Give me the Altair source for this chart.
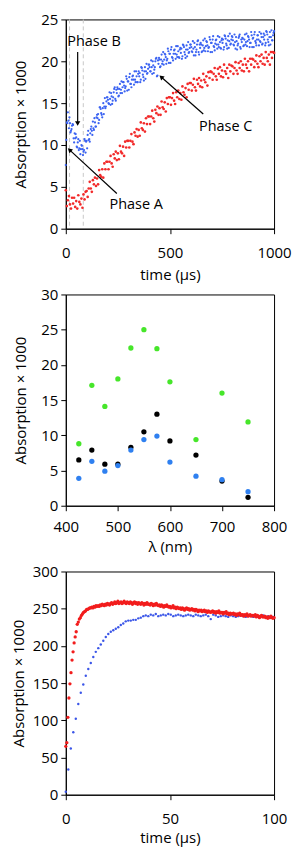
import math
import altair as alt
import pandas as pd

FONT = "Open Sans"
FS = 15

# ---------------- Panel 1 data (time in µs, step 5; second blue set offset 2.5) ----------------
blue1_a = [
    7.6, 12.7, 13.9, 12.0, 12.6, 11.7, 12.3, 12.4, 10.3, 10.8,
    10.9, 9.7, 10.7, 9.6, 8.9, 10.0, 9.5, 9.2, 10.7, 9.1,
    10.5, 11.2, 10.6, 10.4, 11.9, 11.7, 12.8, 11.8, 12.7, 12.2,
    13.6, 13.7, 13.0, 14.5, 13.8, 13.3, 15.0, 14.6, 14.4, 15.2,
    15.7, 15.0, 16.3, 14.8, 15.8, 15.3, 16.3, 16.9, 15.3, 16.2,
    16.7, 15.9, 17.3, 16.6, 16.2, 17.5, 17.1, 16.8, 18.2, 16.5,
    17.6, 18.1, 17.3, 16.9, 18.2, 17.8, 18.8, 17.5, 18.2, 17.5,
    18.8, 18.6, 17.8, 19.2, 18.4, 17.7, 19.3, 18.8, 18.5, 19.1,
    19.6, 18.8, 20.1, 18.5, 19.5, 19.0, 20.0, 20.4, 18.3, 19.7,
    20.2, 19.4, 20.8, 20.0, 19.6, 20.9, 20.5, 20.1, 21.5, 19.8,
    20.9, 21.4, 20.5, 20.1, 21.3, 20.9, 21.8, 20.5, 21.2, 20.4,
    21.6, 21.5, 20.6, 21.9, 21.1, 20.4, 21.9, 21.4, 21.0, 21.6,
    22.0, 21.2, 22.4, 20.7, 21.7, 21.1, 22.0, 22.5, 20.8, 21.6,
    22.0, 21.2, 22.5, 21.6, 21.2, 22.4, 21.9, 21.6, 22.9, 21.1,
    22.2, 22.6, 21.8, 21.3, 22.5, 22.0, 23.0, 21.7, 22.3, 21.5,
    22.7, 22.6, 21.7, 23.0, 22.1, 21.5, 23.0, 22.4, 22.0, 22.6,
    22.9, 22.0, 23.2, 21.5, 22.4, 21.9, 22.8, 23.2, 21.5, 22.3,
    22.7, 21.9, 23.2, 22.3, 21.8, 23.0, 22.6, 22.2, 23.5, 21.7,
    22.8, 23.2, 22.4, 21.9, 23.1, 22.6, 23.5, 22.3, 22.9, 22.1,
    23.3, 23.1, 22.2, 23.5, 22.6, 21.9, 23.5, 22.9, 22.5, 23.1,
    23.6,
]
blue1_b = [
    10.6, 12.6, 12.9, 13.3, 11.5, 11.9, 12.5, 10.8, 11.4, 11.3,
    9.8, 10.3, 9.4, 10.5, 9.5, 9.9, 8.8, 9.4, 10.5, 10.4,
    9.6, 11.7, 10.7, 11.4, 12.2, 11.2, 12.0, 13.2, 12.2, 13.3,
    13.2, 12.6, 14.5, 14.3, 13.6, 14.4, 13.7, 15.6, 14.6, 15.7,
    15.4, 14.9, 15.5, 16.2, 14.9, 15.7, 16.7, 15.5, 16.6, 16.9,
    15.8, 16.7, 16.2, 17.6, 16.9, 17.5, 16.4, 17.0, 17.9, 17.6,
    16.6, 18.5, 17.3, 17.8, 18.3, 17.2, 17.8, 18.8, 17.5, 18.5,
    18.2, 17.5, 19.3, 18.9, 18.1, 18.8, 17.9, 19.7, 18.6, 19.6,
    19.3, 18.8, 19.3, 20.0, 18.6, 19.3, 20.3, 18.2, 20.1, 20.4,
    19.3, 20.2, 19.7, 21.1, 20.2, 20.8, 19.7, 20.3, 21.2, 20.9,
    19.8, 21.7, 20.4, 20.9, 21.4, 20.3, 20.8, 21.8, 20.5, 21.4,
    21.0, 20.3, 22.0, 21.7, 20.8, 21.4, 20.6, 22.3, 21.1, 22.0,
    21.7, 21.1, 21.5, 22.2, 20.7, 21.4, 22.4, 21.1, 22.0, 22.2,
    21.1, 21.9, 21.3, 22.7, 21.8, 22.3, 21.2, 21.7, 22.6, 22.2,
    21.1, 23.0, 21.7, 22.1, 22.6, 21.5, 22.0, 22.9, 21.6, 22.5,
    22.2, 21.4, 23.1, 22.7, 21.9, 22.5, 21.6, 23.3, 22.1, 23.0,
    22.5, 21.9, 22.3, 22.9, 21.4, 22.1, 23.0, 21.7, 22.6, 22.8,
    21.8, 22.6, 22.0, 23.3, 22.4, 22.9, 21.7, 22.2, 23.1, 22.7,
    21.7, 23.5, 22.2, 22.6, 23.1, 21.9, 22.4, 23.3, 22.0, 22.9,
    22.6, 21.9, 23.6, 23.2, 22.3, 22.9, 22.0, 23.7, 22.5, 23.4,
]
red1 = [
    4.6, 2.7, 3.4, 3.9, 2.9, 2.4, 3.7, 3.0, 3.7, 2.6,
    3.3, 2.4, 4.0, 3.2, 2.9, 3.6, 2.5, 4.1, 3.5, 4.4,
    4.5, 3.8, 4.8, 5.6, 4.8, 4.4, 5.8, 5.3, 6.1, 5.1,
    6.0, 5.3, 7.0, 6.4, 6.2, 7.1, 6.1, 7.8, 7.1, 8.0,
    8.0, 7.1, 8.0, 8.7, 7.8, 7.4, 8.9, 8.4, 9.2, 8.2,
    9.0, 8.3, 9.9, 9.2, 9.0, 9.8, 8.7, 10.4, 9.7, 10.5,
    10.5, 9.7, 10.5, 11.3, 10.4, 10.1, 11.5, 11.1, 11.9, 11.0,
    11.8, 11.1, 12.7, 12.0, 11.8, 12.6, 11.6, 13.2, 12.5, 13.4,
    13.4, 12.5, 13.4, 14.1, 13.2, 12.8, 14.2, 13.8, 14.6, 13.6,
    14.4, 13.6, 15.2, 14.5, 14.3, 15.1, 14.0, 15.6, 14.9, 15.7,
    15.7, 14.8, 15.6, 16.2, 15.3, 14.9, 16.3, 15.7, 16.5, 15.5,
    16.2, 15.4, 17.0, 16.3, 16.0, 16.8, 15.7, 17.3, 16.6, 17.4,
    17.4, 16.5, 17.2, 17.9, 16.9, 16.5, 17.8, 17.3, 18.0, 17.0,
    17.7, 16.9, 18.5, 17.8, 17.5, 18.2, 17.1, 18.7, 18.0, 18.8,
    18.7, 17.8, 18.5, 19.2, 18.2, 17.8, 19.1, 18.5, 19.3, 18.2,
    18.9, 18.1, 19.6, 18.8, 18.5, 19.2, 18.0, 19.6, 18.8, 19.5,
    19.4, 18.5, 19.2, 19.9, 18.9, 18.5, 19.8, 19.2, 20.0, 18.9,
    19.6, 18.8, 20.3, 19.6, 19.2, 20.0, 18.8, 20.3, 19.6, 20.3,
    20.2, 19.3, 20.0, 20.7, 19.7, 19.3, 20.6, 20.0, 20.8, 19.7,
    20.4, 19.6, 21.1, 20.4, 20.0, 20.8, 19.6, 21.1, 20.4, 21.1,
    21.0,
]
phase_lines = [18, 84]
phase_labels = ["Phase A", "Phase B", "Phase C"]
label_x = [338, 136, 768]
label_y = [2.85, 22.25, 12.1]
arrow_tail_x = [245, 57, 660]
arrow_tail_y = [4.2, 21.1, 13.7]
arrow_head_x = [10, 57, 450]
arrow_head_y = [9.6, 12.3, 18.3]

# ---------------- Panel 2 data ----------------
wavelength = [425, 450, 475, 500, 525, 550, 575, 600, 650, 700, 750]
green2 = [8.8, 17.1, 14.1, 18.0, 22.4, 25.0, 22.3, 17.6, 9.4, 16.0, 11.9]
black2 = [6.5, 7.9, 5.9, 5.9, 8.3, 10.5, 13.0, 9.2, 7.2, 3.5, 1.2]
blue2 = [3.9, 6.3, 4.9, 5.7, 7.9, 9.4, 9.9, 6.2, 4.2, 3.7, 2.0]

# ---------------- Panel 3 data (red step 0.5 µs, blue step 1.2 µs) ----------------
red3 = [
    65, 70, 104, 130, 149, 164, 181, 192, 204, 212,
    219, 229, 232, 236, 238, 241, 243, 245, 246, 247,
    249, 249, 250, 251, 251, 252, 251, 253, 252, 254,
    253, 254, 253, 255, 254, 256, 255, 254, 256, 255,
    257, 256, 255, 257, 258, 256, 257, 259, 257, 258,
    260, 257, 258, 259, 257, 258, 260, 258, 257, 259,
    258, 257, 259, 258, 256, 258, 259, 257, 258, 256,
    258, 257, 256, 258, 257, 255, 257, 256, 258, 256,
    256, 255, 257, 256, 254, 256, 255, 257, 255, 254,
    255, 253, 255, 254, 252, 254, 253, 255, 253, 252,
    253, 251, 252, 254, 251, 252, 250, 252, 251, 250,
    251, 249, 251, 250, 248, 250, 251, 249, 250, 248,
    249, 250, 248, 249, 247, 249, 248, 246, 248, 247,
    248, 246, 247, 248, 246, 247, 245, 247, 246, 245,
    246, 247, 245, 246, 244, 246, 245, 247, 244, 245,
    245, 243, 245, 244, 246, 243, 244, 242, 244, 243,
    243, 244, 242, 243, 241, 243, 242, 244, 241, 242,
    242, 240, 242, 241, 243, 240, 241, 242, 240, 241,
    241, 240, 242, 239, 241, 240, 238, 240, 241, 239,
    239, 240, 238, 239, 237, 239, 238, 240, 238, 237,
    238,
]
blue3 = [
    4, 34, 62, 84, 102, 122, 137, 148, 160, 169,
    177, 185, 192, 197, 202, 207, 212, 216, 219, 221,
    223, 225, 228, 230, 233, 234, 234, 235, 235, 237,
    238, 240, 241, 240, 242, 241, 243, 240, 241, 242,
    241, 243, 242, 240, 241, 242, 241, 240, 241, 242,
    241, 240, 242, 241, 240, 241, 242, 240, 236, 242,
    241, 239, 240, 241, 240, 239, 241, 240, 239, 240,
    241, 240, 239, 240, 241, 239, 240, 239, 240, 241,
    239, 240, 238, 239,
]

# ---------------- layout ----------------
W = 209
H1, H2, H3 = 210, 212, 224
Y_TITLE = "Absorption \u00d7 1000"


def xaxis(title, values, pad, ty):
    return alt.Axis(title=title, values=values, grid=False, labelFlush=False,
                    labelOverlap=False, format="d",
                    labelBaseline="alphabetic", labelPadding=pad, tickSize=5,
                    titleY=ty, titleBaseline="alphabetic")


def yaxis(values, h, tx):
    return alt.Axis(title=Y_TITLE, values=values, grid=False, labelPadding=3,
                    labelOverlap=False, labelFlush=False, format="d",
                    tickSize=5, titleX=tx, titleY=h / 2, titleAngle=270,
                    titleAlign="center", titleBaseline="alphabetic")


# Panel 1
df_b1 = pd.DataFrame({
    "t": [i * 5 for i in range(len(blue1_a))] + [i * 5 + 2.5 for i in range(len(blue1_b))],
    "v": blue1_a + blue1_b,
})
df_r1 = pd.DataFrame({"t": [i * 5 for i in range(len(red1))], "v": red1})

x1 = alt.X("t:Q", scale=alt.Scale(domain=[0, 1000], nice=False),
           axis=xaxis("time (\u00b5s)", [0, 500, 1000], 23.5, 51))
y1 = alt.Y("v:Q", scale=alt.Scale(domain=[0, 25], nice=False),
           axis=yaxis([0, 5, 10, 15, 20, 25], H1, -40))

sx, sy = W / 1000, H1 / 25
angles, hx, hy = [], [], []
for tx_, ty_, hx_, hy_ in zip(arrow_tail_x, arrow_tail_y, arrow_head_x, arrow_head_y):
    dx = (hx_ - tx_) * sx
    dy = -(hy_ - ty_) * sy
    L = math.hypot(dx, dy)
    angles.append(math.degrees(math.atan2(dx, -dy)) % 360)
    hx.append(hx_ - dx / L * 3 / sx)
    hy.append(hy_ + dy / L * 3 / sy)
df_arr = pd.DataFrame({"x": arrow_tail_x, "y": arrow_tail_y, "x2": hx, "y2": hy,
                       "ang": angles})
df_lab = pd.DataFrame({"x": label_x, "y": label_y, "txt": phase_labels})
df_pl = pd.DataFrame({"t": phase_lines})

dash = alt.Chart(df_pl).mark_rule(color="#c8c8c8", strokeDash=[4, 3], strokeWidth=1).encode(x=x1)
red_pts = alt.Chart(df_r1).mark_circle(size=7, color="#f22a2a", opacity=1).encode(x=x1, y=y1)
blue_pts = alt.Chart(df_b1).mark_circle(size=5, color="#3b63f2", opacity=1).encode(x=x1, y=y1)
arr_line = alt.Chart(df_arr).mark_rule(color="black", strokeWidth=1.2).encode(
    x=alt.X("x:Q", scale=alt.Scale(domain=[0, 1000], nice=False)),
    y=alt.Y("y:Q", scale=alt.Scale(domain=[0, 25], nice=False)),
    x2="x2:Q", y2="y2:Q")
arr_head = alt.Chart(df_arr).mark_point(shape="triangle", filled=True, color="black",
                                        size=28, opacity=1).encode(
    x="x2:Q", y="y2:Q", angle=alt.Angle("ang:Q", scale=None))
labels = alt.Chart(df_lab).mark_text(font=FONT, fontSize=14.5, color="black",
                                     align="center", baseline="middle").encode(
    x="x:Q", y="y:Q", text="txt:N")
p1 = alt.layer(dash, red_pts, blue_pts, arr_line, arr_head, labels).properties(width=W, height=H1)

# Panel 2
df2 = pd.DataFrame({
    "lam": wavelength * 3,
    "v": green2 + black2 + blue2,
    "s": ["g"] * len(wavelength) + ["k"] * len(wavelength) + ["b"] * len(wavelength),
    "o": [0] * len(wavelength) + [1] * len(wavelength) + [2] * len(wavelength),
})
p2 = alt.Chart(df2).mark_circle(size=28, opacity=1).encode(
    x=alt.X("lam:Q", scale=alt.Scale(domain=[400, 800], nice=False),
            axis=xaxis("\u03bb (nm)", [400, 500, 600, 700, 800], 20.4, 45.7)),
    y=alt.Y("v:Q", scale=alt.Scale(domain=[0, 30], nice=False),
            axis=yaxis([0, 5, 10, 15, 20, 25, 30], H2, -40)),
    color=alt.Color("s:N", scale=alt.Scale(domain=["g", "k", "b"],
                                           range=["#46e62a", "#000000", "#2f80f0"]),
                    legend=None),
    order=alt.Order("o:Q"),
).properties(width=W, height=H2)

# Panel 3
df_r3 = pd.DataFrame({"t": [i * 0.5 for i in range(len(red3))], "v": red3})
df_b3 = pd.DataFrame({"t": [i * 1.2 for i in range(len(blue3))], "v": blue3})
x3 = alt.X("t:Q", scale=alt.Scale(domain=[0, 100], nice=False),
           axis=xaxis("time (\u00b5s)", [0, 50, 100], 24.3, 48))
y3 = alt.Y("v:Q", scale=alt.Scale(domain=[0, 300], nice=False),
           axis=yaxis([0, 50, 100, 150, 200, 250, 300], H3, -42))
b3 = alt.Chart(df_b3).mark_circle(size=6, color="#3b56e8", opacity=1).encode(x=x3, y=y3)
r3 = alt.Chart(df_r3).mark_circle(size=11, color="#f21d1d", opacity=1).encode(x=x3, y=y3)
p3 = alt.layer(b3, r3).properties(width=W, height=H3)

chart = alt.vconcat(p1, p2, p3, spacing=66, bounds="flush").properties(
    padding={"left": 3, "top": 2, "right": 0, "bottom": 0}
).configure_view(stroke="black", strokeWidth=1).configure_axis(
    domainColor="black", tickColor="black", labelColor="black", titleColor="black",
    labelFont=FONT, titleFont=FONT, labelFontSize=FS, titleFontSize=FS,
    titleFontWeight="normal", labelOverlap=False,
)

chart.save("out.html", embed_options={"renderer": "svg", "actions": False})
